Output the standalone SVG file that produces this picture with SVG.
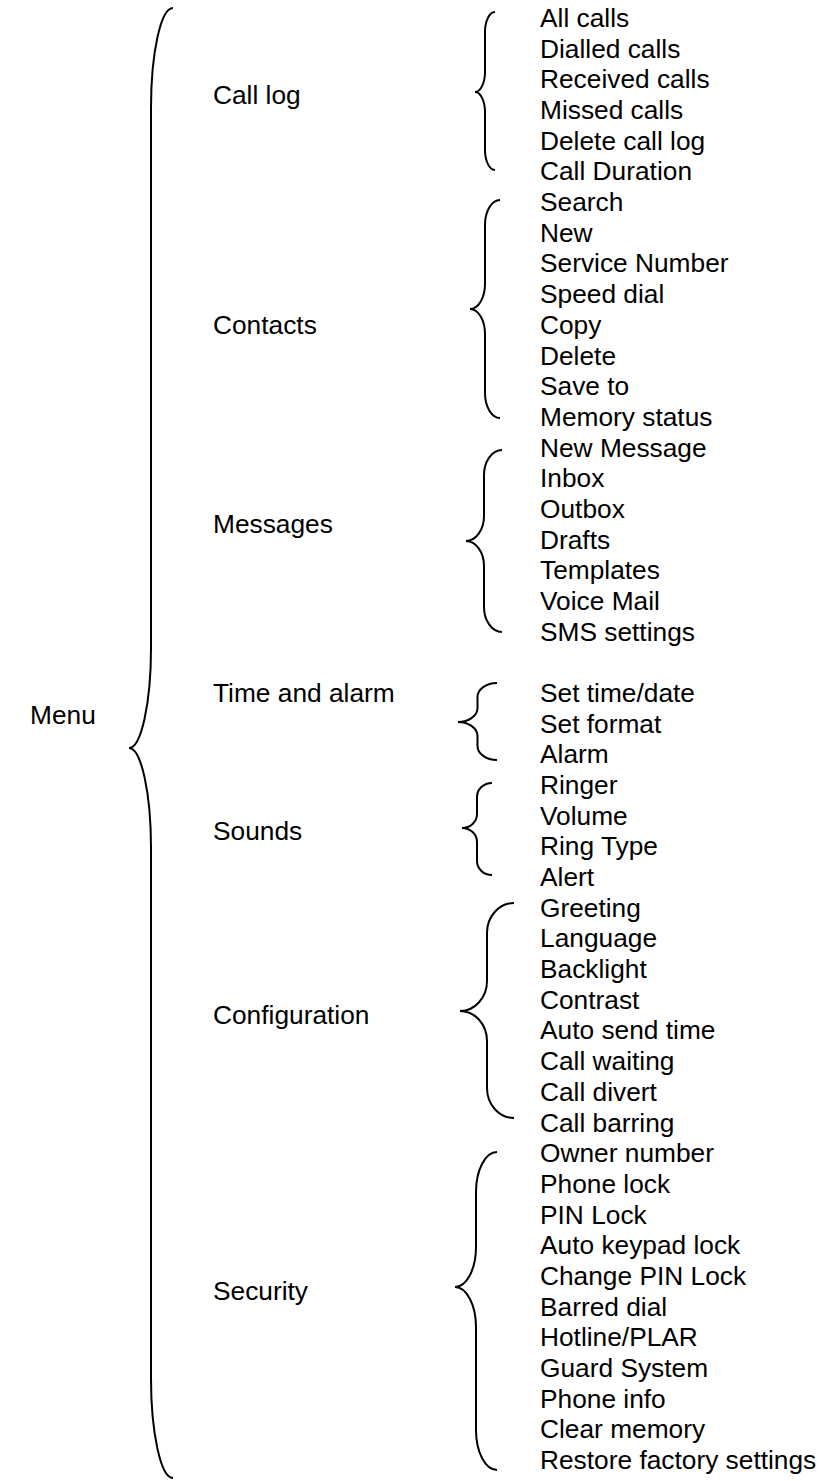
<svg xmlns="http://www.w3.org/2000/svg" width="819" height="1481" viewBox="0 0 819 1481">
<style>
text{font-family:"Liberation Sans",Arial,sans-serif;font-size:26.3px;fill:#000}
.b{fill:none;stroke:#000;stroke-width:2}
</style>
<rect width="819" height="1481" fill="#fff"/>
<g id="connectors">
<path class="b" d="M173,8 A22,100 0 0 0 151,108 L151,648 A22,100 0 0 1 129,748 A22,100 0 0 1 151,848 L151,1378 A22,100 0 0 0 173,1478"/>
<path class="b" d="M495,12 A10,20 0 0 0 485,32 L485,72 A10,20 0 0 1 475,92 A10,20 0 0 1 485,112 L485,150 A10,20 0 0 0 495,170"/>
<path class="b" d="M500,200 A15,25 0 0 0 485,225 L485,284 A15,25 0 0 1 470,309 A15,25 0 0 1 485,334 L485,393 A15,25 0 0 0 500,418"/>
<path class="b" d="M502,450 A18,25 0 0 0 484,475 L484,516 A18,25 0 0 1 466,541 A18,25 0 0 1 484,566 L484,607 A18,25 0 0 0 502,632"/>
<path class="b" d="M497,683 A19.5,14 0 0 0 477.5,697 L477.5,708 A19.5,14 0 0 1 458,722 A19.5,14 0 0 1 477.5,736 L477.5,746 A19.5,14 0 0 0 497,760"/>
<path class="b" d="M492,783 A15,14 0 0 0 477,797 L477,814 A15,14 0 0 1 462,828 A15,14 0 0 1 477,842 L477,861 A15,14 0 0 0 492,875"/>
<path class="b" d="M514,903 A27,30 0 0 0 487,933 L487,981 A27,30 0 0 1 460,1011 A27,30 0 0 1 487,1041 L487,1088 A27,30 0 0 0 514,1118"/>
<path class="b" d="M497,1152 A21,40 0 0 0 476,1192 L476,1247 A21,40 0 0 1 455,1287 A21,40 0 0 1 476,1327 L476,1430 A21,40 0 0 0 497,1470"/>
</g>
<g id="menu"><text x="30" y="724">Menu</text></g>
<g id="calllog"><text x="213" y="104">Call log</text></g>
<g id="contacts"><text x="213" y="334">Contacts</text></g>
<g id="messages"><text x="213" y="533">Messages</text></g>
<g id="timealarm"><text x="213" y="702">Time and alarm</text></g>
<g id="sounds"><text x="213" y="840">Sounds</text></g>
<g id="configuration"><text x="213" y="1024">Configuration</text></g>
<g id="security"><text x="213" y="1300">Security</text></g>
<g id="items-calllog">
<text x="540" y="27">All calls</text>
<text x="540" y="57.7">Dialled calls</text>
<text x="540" y="88.4">Received calls</text>
<text x="540" y="119">Missed calls</text>
<text x="540" y="149.7">Delete call log</text>
<text x="540" y="180.4">Call Duration</text>
</g>
<g id="items-contacts">
<text x="540" y="211.1">Search</text>
<text x="540" y="241.8">New</text>
<text x="540" y="272.4">Service Number</text>
<text x="540" y="303.1">Speed dial</text>
<text x="540" y="333.8">Copy</text>
<text x="540" y="364.5">Delete</text>
<text x="540" y="395.2">Save to</text>
<text x="540" y="425.8">Memory status</text>
</g>
<g id="items-messages">
<text x="540" y="456.5">New Message</text>
<text x="540" y="487.2">Inbox</text>
<text x="540" y="517.9">Outbox</text>
<text x="540" y="548.6">Drafts</text>
<text x="540" y="579.2">Templates</text>
<text x="540" y="609.9">Voice Mail</text>
<text x="540" y="640.6">SMS settings</text>
</g>
<g id="items-timealarm">
<text x="540" y="702">Set time/date</text>
<text x="540" y="732.6">Set format</text>
<text x="540" y="763.3">Alarm</text>
</g>
<g id="items-sounds">
<text x="540" y="794">Ringer</text>
<text x="540" y="824.7">Volume</text>
<text x="540" y="855.4">Ring Type</text>
<text x="540" y="886">Alert</text>
</g>
<g id="items-configuration">
<text x="540" y="916.7">Greeting</text>
<text x="540" y="947.4">Language</text>
<text x="540" y="978.1">Backlight</text>
<text x="540" y="1008.8">Contrast</text>
<text x="540" y="1039.4">Auto send time</text>
<text x="540" y="1070.1">Call waiting</text>
<text x="540" y="1100.8">Call divert</text>
<text x="540" y="1131.5">Call barring</text>
</g>
<g id="items-security">
<text x="540" y="1162.2">Owner number</text>
<text x="540" y="1192.8">Phone lock</text>
<text x="540" y="1223.5">PIN Lock</text>
<text x="540" y="1254.2">Auto keypad lock</text>
<text x="540" y="1284.9">Change PIN Lock</text>
<text x="540" y="1315.6">Barred dial</text>
<text x="540" y="1346.2">Hotline/PLAR</text>
<text x="540" y="1376.9">Guard System</text>
<text x="540" y="1407.6">Phone info</text>
<text x="540" y="1438.3">Clear memory</text>
<text x="540" y="1469">Restore factory settings</text>
</g>
</svg>
